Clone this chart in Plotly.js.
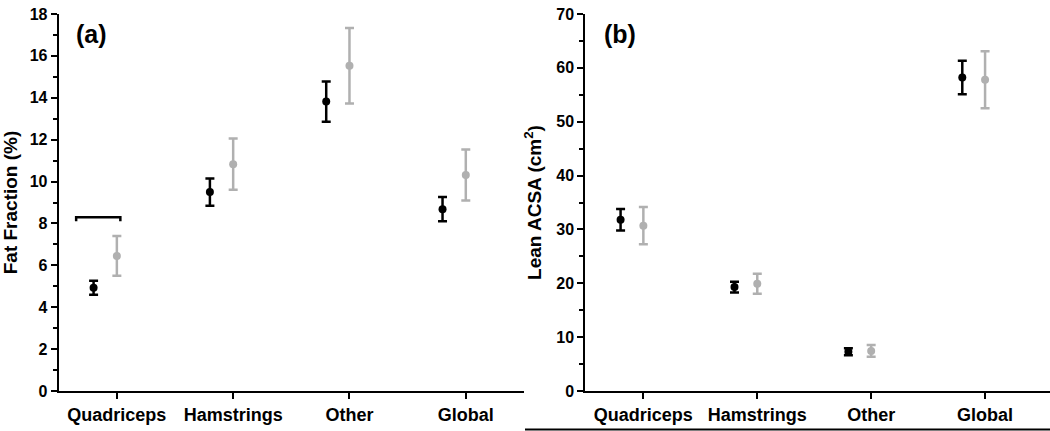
<!DOCTYPE html>
<html>
<head>
<meta charset="utf-8">
<script src="https://cdn.plot.ly/plotly-3.0.1.min.js"></script>
<style>
  html, body { margin: 0; padding: 0; background: #fff; }
  #myDiv { width: 1050px; height: 431px; }
</style>
</head>
<body>
<div id="myDiv"></div>
<script>
var categories = ['Quadriceps', 'Hamstrings', 'Other', 'Global'];

// panel (a) fat fraction, %
var fatBlack = [4.93, 9.50, 13.82, 8.68];
var fatBlackErr = [0.33, 0.65, 0.96, 0.58];
var fatGray = [6.45, 10.83, 15.53, 10.31];
var fatGrayErr = [0.95, 1.22, 1.80, 1.22];

// panel (b) lean ACSA, cm2
var leanBlack = [31.8, 19.3, 7.3, 58.2];
var leanBlackErr = [2.0, 1.0, 0.65, 3.1];
var leanGray = [30.7, 19.9, 7.45, 57.8];
var leanGrayErr = [3.45, 1.85, 1.1, 5.3];

var bracketLevel = 8.29;

var font = 'Liberation Sans, Arial, sans-serif';
var gray = '#b0b0b0';
var pos = categories.map(function (c, i) { return i; });
var shift = -0.2;
var posBlack = pos.map(function (p) { return p + shift; });

function series(x, y, err, color, xa, ya) {
  return {
    x: x, y: y, xaxis: xa, yaxis: ya,
    mode: 'markers', type: 'scatter', showlegend: false,
    marker: { color: color, size: 8 },
    error_y: { type: 'data', array: err, color: color, thickness: 2.5, width: 4.5 }
  };
}

var data = [
  series(posBlack, fatBlack, fatBlackErr, '#000', 'x', 'y'),
  series(pos, fatGray, fatGrayErr, gray, 'x', 'y'),
  series(posBlack, leanBlack, leanBlackErr, '#000', 'x2', 'y2'),
  series(pos, leanGray, leanGrayErr, gray, 'x2', 'y2')
];

function xAxis(domain, range, anchor) {
  return {
    domain: domain, range: range, anchor: anchor,
    tickvals: pos, ticktext: categories,
    showline: true, linewidth: 2, linecolor: '#000',
    ticks: 'outside', ticklen: 6, tickwidth: 1.5, tickcolor: '#000',
    showgrid: false, zeroline: false,
    tickfont: { family: font, size: 18, weight: 'bold', color: '#000' }
  };
}

function yAxis(range, dtick, title, anchor) {
  return {
    range: range, dtick: dtick, anchor: anchor,
    showline: true, linewidth: 2, linecolor: '#000',
    ticks: 'outside', ticklen: 6, tickwidth: 1.5, tickcolor: '#000',
    minor: { ticks: 'outside', ticklen: 4, tickwidth: 1.5, tickcolor: '#000', dtick: dtick / 2 },
    showgrid: false, zeroline: false,
    tickfont: { family: font, size: 16, weight: 'bold', color: '#000' },
    title: { text: title, standoff: 10, font: { family: font, size: 19, weight: 'bold', color: '#000' } }
  };
}

var labelFont = { family: font, size: 25, weight: 'bold', color: '#000' };

var layout = {
  width: 1050, height: 431,
  margin: { l: 0, r: 0, t: 14, b: 40 },
  paper_bgcolor: '#fff', plot_bgcolor: '#fff',
  xaxis: xAxis([0.0559, 0.499], [-0.5, 3.5], 'y'),
  yaxis: yAxis([0, 18], 2, 'Fat Fraction (%)', 'x'),
  xaxis2: xAxis([0.5574, 1], [-0.51, 3.57], 'y2'),
  yaxis2: yAxis([0, 70], 10, 'Lean ACSA (cm<sup>2</sup>)', 'x2'),
  annotations: [
    { text: '(a)', xref: 'paper', yref: 'paper', x: 0.087, y: 0.947, xanchor: 'center', yanchor: 'middle',
      showarrow: false, font: labelFont },
    { text: '(b)', xref: 'paper', yref: 'paper', x: 0.590, y: 0.947, xanchor: 'center', yanchor: 'middle',
      showarrow: false, font: labelFont }
  ],
  shapes: [
    { type: 'path', xref: 'x', yref: 'y',
      path: 'M ' + (posBlack[0] - 0.15) + ',' + (bracketLevel - 0.18) +
            ' L ' + (posBlack[0] - 0.15) + ',' + bracketLevel +
            ' L ' + (pos[0] + 0.03) + ',' + bracketLevel +
            ' L ' + (pos[0] + 0.03) + ',' + (bracketLevel - 0.18),
      line: { color: '#000', width: 2.5 } },
    { type: 'line', xref: 'paper', yref: 'paper', x0: 0.5, x1: 1, y0: -0.102, y1: -0.102,
      line: { color: '#000', width: 2 } }
  ]
};

Plotly.newPlot('myDiv', data, layout, { displayModeBar: false });
</script>
</body>
</html>
